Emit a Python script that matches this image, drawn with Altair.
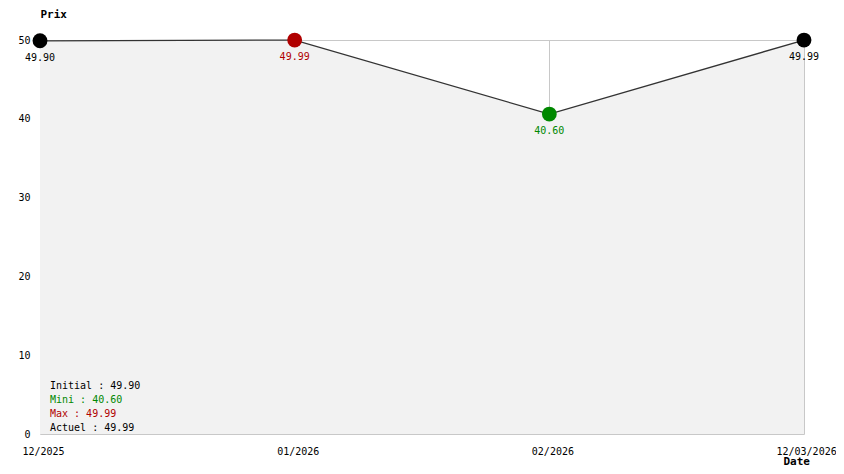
import altair as alt
import pandas as pd

dates = ["12/2025", "01/2026", "02/2026", "12/03/2026"]
prices = [49.90, 49.99, 40.60, 49.99]
point_colors = ["#000000", "#b00000", "#008800", "#000000"]
labels = ["49.90", "49.99", "40.60", "49.99"]

stat_lines = ["Initial : 49.90", "Mini : 40.60", "Max : 49.99", "Actuel : 49.99"]
stat_colors = ["#000000", "#008800", "#b00000", "#000000"]

df = pd.DataFrame({
    "idx": list(range(len(dates))),
    "date": dates,
    "price": prices,
    "color": point_colors,
    "label": labels,
})

FONT = "DejaVu Sans Mono"
label_expr = "[" + ",".join("'" + d + "'" for d in dates) + "][datum.value]"
last = len(dates) - 1

x = alt.X("idx:Q",
          scale=alt.Scale(domain=[0, last], nice=False, zero=False),
          axis=alt.Axis(values=list(range(len(dates))), labelExpr=label_expr,
                        title="Date", titleX=743, titleY=32, titleAlign="left",
                        titleBaseline="bottom", titleFont=FONT, titleFontSize=11,
                        titleFontWeight="bold", labelFont=FONT, labelFontSize=10,
                        labelAlign="left",
                        labelOffset={"condition": {"test": f"datum.value == {last}", "value": -28},
                                     "value": -18},
                        labelPadding=12,
                        labelFlush=False, labelOverlap=False, domain=False, ticks=False,
                        grid=True, gridColor="#c8c8c8", labelColor="#000000"))
y = alt.Y("price:Q",
          scale=alt.Scale(domain=[0, 50], nice=False),
          axis=alt.Axis(values=[0, 10, 20, 30, 40, 50], title="Prix", titleAngle=0,
                        titleX=0, titleY=-32, titleAlign="left", titleBaseline="top",
                        titleFont=FONT, titleFontSize=11, titleFontWeight="bold",
                        labelFont=FONT, labelFontSize=10, labelPadding=10,
                        domain=False, ticks=False, grid=True, gridColor="#c8c8c8",
                        labelColor="#000000"))

base = alt.Chart(df)
area = base.mark_area(color="#f2f2f2", opacity=1).encode(x=x, y=y)
line = base.mark_line(color="#333333", strokeWidth=1.3).encode(x="idx:Q", y="price:Q")
points = base.mark_circle(size=220, opacity=1).encode(
    x="idx:Q", y="price:Q", color=alt.Color("color:N", scale=None))
texts = base.mark_text(font=FONT, fontSize=10, dy=17, baseline="middle").encode(
    x="idx:Q", y="price:Q", text="label:N", color=alt.Color("color:N", scale=None))

stat_layers = []
for i, (s, c) in enumerate(zip(stat_lines, stat_colors)):
    stat_layers.append(
        alt.Chart(pd.DataFrame({"line": [s]})).mark_text(
            font=FONT, fontSize=10, align="left", baseline="middle", color=c
        ).encode(x=alt.value(10), y=alt.value(346 + 14 * i), text="line:N")
    )

chart = alt.layer(area, line, points, texts, *stat_layers).properties(
    width=764, height=394,
    autosize=alt.AutoSizeParams(type="none"),
    padding={"left": 32, "top": 32, "right": 32, "bottom": 32},
    background="#ffffff",
).configure_view(stroke=None)

chart.save("out.html", embed_options={"renderer": "svg", "actions": False})
